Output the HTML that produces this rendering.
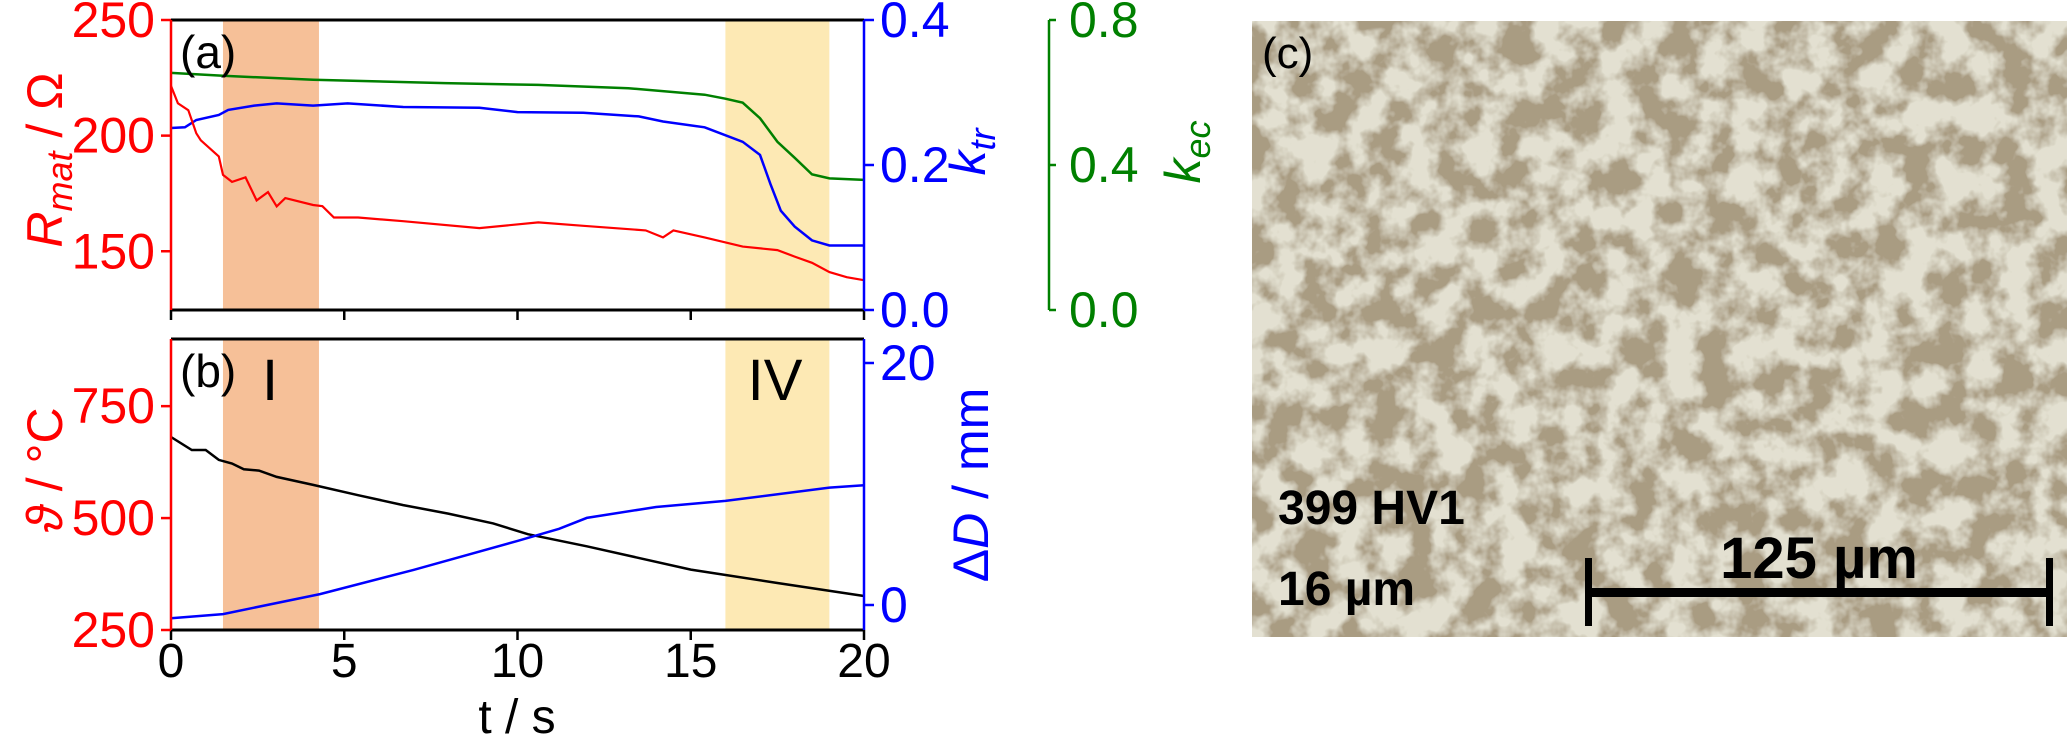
<!DOCTYPE html>
<html><head><meta charset="utf-8"><style>
html,body{margin:0;padding:0;background:#fff;}
svg{display:block;font-family:"Liberation Sans",Arial,sans-serif;}
</style></head><body>
<svg id="fig" width="2067" height="745" viewBox="0 0 2067 745" xmlns="http://www.w3.org/2000/svg">
<defs>
<filter id="micro" x="0" y="0" width="100%" height="100%">
<feTurbulence type="fractalNoise" baseFrequency="0.03" numOctaves="4" seed="7" result="n"/>
<feColorMatrix in="n" type="matrix" values="0 0 0 0 0.77  0 0 0 0 0.75  0 0 0 0 0.64  0 0 0 -4 2.5" result="light"/>
<feFlood flood-color="#a99c82" result="base"/>
<feComposite in="light" in2="base" operator="over"/>
</filter>
</defs>
<g id="plots"></g>
<g>
<rect x="1252" y="21" width="815" height="616" fill="#a89a80" filter="url(#micro)"/>
<text x="1262" y="68" font-size="44" fill="#000">(c)</text>
<text x="1278" y="524" font-size="48" font-weight="bold" fill="#000">399 HV1</text>
<text x="1278" y="605" font-size="48" font-weight="bold" fill="#000">16 µm</text>
<text x="1819" y="578" font-size="58" font-weight="bold" fill="#000" text-anchor="middle">125 µm</text>
<g>
<rect x="1586" y="588" width="466" height="9" fill="#000"/>
<rect x="1585" y="558" width="7" height="68" fill="#000"/>
<rect x="2046" y="558" width="7" height="68" fill="#000"/>
</g>
</g>
</svg>
<script>
// ---- data ----
var tR=[0,0.2,0.5,0.73,0.86,1.38,1.5,1.76,2.15,2.47,2.8,3.05,3.3,4.1,4.37,4.7,5.4,6.7,8.9,10.6,11.9,13.7,14.2,14.5,15.4,16.5,17.5,18,18.5,19,19.5,20];
var R=[221.5,214,211,201,198,191,183,180,182,172,175.6,169.4,173,170,169.5,164.6,164.6,163,160,162.5,161,159,156,159,156,152,150.5,147.7,145,141,138.8,137.5];
var tK=[0,0.4,0.73,1.38,1.65,2.4,3.05,4.1,5.1,6.7,8.9,10,11.9,13.5,14.2,15.4,16.5,17,17.3,17.6,18,18.5,19,20];
var Ktr=[0.251,0.252,0.262,0.269,0.276,0.282,0.285,0.282,0.285,0.28,0.279,0.273,0.272,0.267,0.26,0.252,0.232,0.214,0.174,0.137,0.115,0.096,0.089,0.089];
var tE=[0,1.5,4.1,7.9,10.6,13.2,15.4,16,16.5,17,17.5,18,18.5,19,20];
var Kec=[0.654,0.646,0.635,0.626,0.621,0.612,0.594,0.583,0.572,0.529,0.464,0.42,0.374,0.363,0.359];
var tT=[0,0.6,1.0,1.38,1.76,2.1,2.54,3.05,4.1,5.4,6.7,8.0,9.3,10.3,12,15,17.5,20];
var Theta=[681,652,652,630,622,609,606,592,574,551,529,510,488,464,437,385,355,326];
var tD=[0,1.5,4.3,7,10,11.2,12,14,16,19,20];
var dD=[-1.1,-0.75,0.9,2.9,5.3,6.3,7.2,8.1,8.6,9.7,9.9];
var xTicks=[0,5,10,15,20];
var rTicks=[150,200,250];
var kTicks=[0.0,0.2,0.4];
var eTicks=[0.0,0.4,0.8];
var thTicks=[250,500,750];
var dTicks=[0,20];
var regionI=[1.5,4.27];
var regionIV=[16.0,19.0];

// ---- scales ----
var X0=171,X1=864;
function sx(t){return X0+(t-0)/(20-0)*(X1-X0);}
var A0=20,A1=310,B0=339,B1=630;
function sR(v){return A1-(v-124.6)/(250-124.6)*(A1-A0);}
function sK(v){return A1-v/0.4*(A1-A0);}
function sE(v){return A1-v/0.8*(A1-A0);}
function sT(v){return B1-(v-250)/(900-250)*(B1-B0);}
function sD(v){return 605-v/20*(605-363);}

var NS="http://www.w3.org/2000/svg";
var root=document.getElementById('plots');
function mk(tag,attrs,parent){var e=document.createElementNS(NS,tag);for(var k in attrs)e.setAttribute(k,attrs[k]);(parent||root).appendChild(e);return e;}
function txt(x,y,s,size,fill,anchor,parent){var e=mk('text',{x:x,y:y,'font-size':size,fill:fill,'text-anchor':anchor||'start'},parent);e.textContent=s;return e;}
function pts(ts,vs,f){return ts.map(function(t,i){return sx(t).toFixed(1)+','+f(vs[i]).toFixed(1);}).join(' ');}

// shaded regions
[[A0,A1],[B0,B1]].forEach(function(r,j){
  var a=mk('rect',{x:sx(regionI[0]),y:r[0],width:sx(regionI[1])-sx(regionI[0]),height:r[1]-r[0],fill:'#f6c098'});
  
  
  var b=mk('rect',{x:sx(regionIV[0]),y:r[0],width:sx(regionIV[1])-sx(regionIV[0]),height:r[1]-r[0],fill:'#fde9b4'});
  
  
});

// series
var l;
l=mk('polyline',{points:pts(tE,Kec,sE),fill:'none',stroke:'#008000','stroke-width':2.5});


l=mk('polyline',{points:pts(tK,Ktr,sK),fill:'none',stroke:'#0000ff','stroke-width':2.5});


l=mk('polyline',{points:pts(tR,R,sR),fill:'none',stroke:'#ff0000','stroke-width':2.2});


l=mk('polyline',{points:pts(tT,Theta,sT),fill:'none',stroke:'#000','stroke-width':2.5});


l=mk('polyline',{points:pts(tD,dD,sD),fill:'none',stroke:'#0000ff','stroke-width':2.5});



// frames
function line(x1,y1,x2,y2,c,w,name){var e=mk('line',{x1:x1,y1:y1,x2:x2,y2:y2,stroke:c,'stroke-width':w||2.5});

return e;}
line(X0,A0,X1,A0,'#000',3,'top-spine-a');
line(X0,A1,X1,A1,'#000',3,'bottom-spine-a');
line(X0,B0,X1,B0,'#000',3,'top-spine-b');
line(X0,B1,X1,B1,'#000',3,'bottom-spine-b');
line(X0,A0,X0,A1,'#ff0000',2.5,'left-spine-a');
line(X1,A0,X1,A1,'#0000ff',2.5,'right-spine-a');
line(X0,B0,X0,B1,'#ff0000',2.5,'left-spine-b');
line(X1,B0,X1,B1,'#0000ff',2.5,'right-spine-b');
line(1049,A0,1049,A1,'#008000',2.5,'kec-spine');

// x ticks
xTicks.forEach(function(v){
  line(sx(v),A1,sx(v),A1+10,'#000',2.5,'x-tick-a');
  line(sx(v),B1,sx(v),B1+10,'#000',2.5,'x-tick-b');
  var t=txt(sx(v),B1+47,String(v),48,'#000','middle');
  
  
});
rTicks.forEach(function(v){
  line(X0-10,sR(v),X0,sR(v),'#ff0000',2.5,'rmat-tick');
  var t=txt(X0-16,sR(v)+17,String(v),50,'#ff0000','end');
  
  
});
kTicks.forEach(function(v){
  line(X1,sK(v),X1+10,sK(v),'#0000ff',2.5,'ktr-tick');
  var t=txt(X1+16,sK(v)+17,v.toFixed(1),50,'#0000ff','start');
  
  
});
eTicks.forEach(function(v){
  line(1049,sE(v),1056,sE(v),'#008000',2.5,'kec-tick');
  var t=txt(1069,sE(v)+17,v.toFixed(1),50,'#008000','start');
  
  
});
thTicks.forEach(function(v){
  line(X0-10,sT(v),X0,sT(v),'#ff0000',2.5,'theta-tick');
  var t=txt(X0-16,sT(v)+17,String(v),50,'#ff0000','end');
  
  
});
dTicks.forEach(function(v){
  line(X1,sD(v),X1+10,sD(v),'#0000ff',2.5,'deltaD-tick');
  var t=txt(X1+16,sD(v)+17,String(v),50,'#0000ff','start');
  
  
});

// axis titles
function vtitle(x,y,html,color,name){
  var t=mk('text',{x:0,y:0,'font-size':50,fill:color,'text-anchor':'middle',transform:'translate('+x+','+y+') rotate(-90)'});
  t.innerHTML=html;
  
  
}
vtitle(62,160,'<tspan font-style="italic">R</tspan><tspan font-style="italic" font-size="36" dy="10">mat</tspan><tspan dy="-10"> / Ω</tspan>','#ff0000','rmat-axis-title');
vtitle(62,470,'<tspan font-style="italic">ϑ</tspan> / °C','#ff0000','theta-axis-title');
vtitle(985,152,'<tspan font-style="italic">k</tspan><tspan font-style="italic" font-size="36" dy="10">tr</tspan>','#0000ff','ktr-axis-title');
vtitle(1200,152,'<tspan font-style="italic">k</tspan><tspan font-style="italic" font-size="36" dy="10">ec</tspan>','#008000','kec-axis-title');
vtitle(988,485,'Δ<tspan font-style="italic">D</tspan> / mm','#0000ff','deltaD-axis-title');
var tt=txt(517,733,'t / s',48,'#000','middle');



// panel labels
var p;
p=txt(180,68,'(a)',46,'#000');


p=txt(180,387,'(b)',46,'#000');


p=txt(270,400,'I',58,'#000','middle');


p=txt(775,400,'IV',58,'#000','middle');


</script>
</body></html>
